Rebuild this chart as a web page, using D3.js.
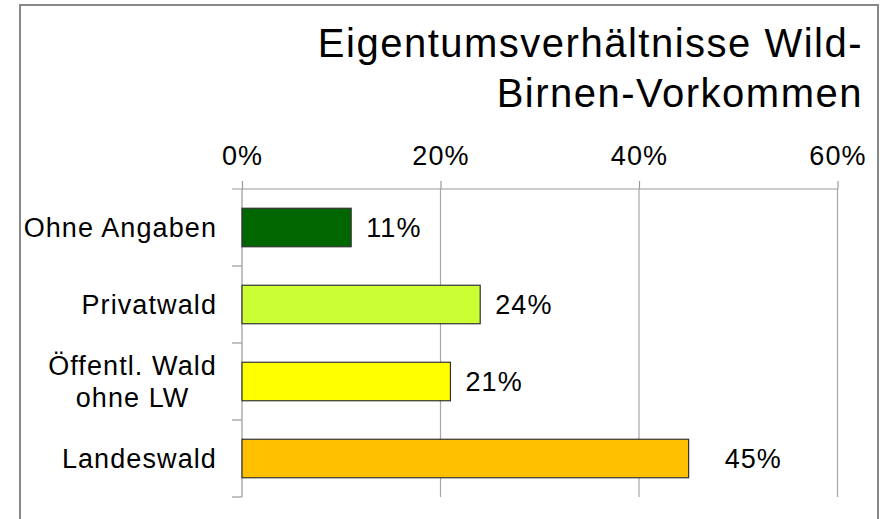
<!DOCTYPE html>
<html>
<head>
<meta charset="utf-8">
<script src="https://cdn.jsdelivr.net/npm/d3@7"></script>
<style>
  html, body { margin: 0; padding: 0; background: #fff; }
  svg { display: block; font-family: "Liberation Sans", Arial, sans-serif; }
</style>
</head>
<body>
<svg id="chart" width="880" height="519"></svg>
<script>
const titleLines = ["Eigentumsverhältnisse Wild-", "Birnen-Vorkommen"];
const categories = ["Ohne Angaben", "Privatwald", "Öffentl. Wald\nohne LW", "Landeswald"];
const values = [11, 24, 21, 45];
const valueLabels = ["11%", "24%", "21%", "45%"];
const colors = ["#006600", "#ccff33", "#ffff00", "#ffc000"];
const tickValues = [0, 20, 40, 60];

const svg = d3.select("#chart");
const W = 880, H = 519;
const m = { left: 242, right: 42.5, top: 189, bottom: 22 };
const FS = 27, LS = 1.1;

// frame
svg.append("rect").attr("x", 20).attr("y", 5).attr("width", 858).attr("height", 530)
  .attr("fill", "#fff").attr("stroke", "#888").attr("stroke-width", 2);

const x = d3.scaleLinear().domain([0, 60]).range([m.left, W - m.right]);
const y = d3.scaleBand().domain(categories).range([m.top, H - m.bottom]).paddingInner(0.5).paddingOuter(0.25);
const yFull = d3.scaleBand().domain(categories).range([m.top, H - m.bottom]);

// title
svg.append("g").selectAll("text").data(titleLines).join("text")
  .attr("x", 863).attr("y", (d, i) => 57 + i * 50)
  .attr("text-anchor", "end").attr("font-size", 40).attr("letter-spacing", 1.5)
  .attr("fill", "#000").text(d => d);

// gridlines
svg.append("g").selectAll("line").data(tickValues.filter(v => v > 0)).join("line")
  .attr("x1", d => x(d)).attr("x2", d => x(d))
  .attr("y1", m.top).attr("y2", H - m.bottom)
  .attr("stroke", "#a6a6a6").attr("stroke-width", 1.2);

// top axis
const xAxis = d3.axisTop(x).tickValues(tickValues).tickFormat(d => d + "%").tickSize(8).tickSizeOuter(0).tickPadding(16);
const gx = svg.append("g").attr("transform", `translate(0,${m.top})`).call(xAxis);
gx.select(".domain").remove();
gx.append("line").attr("x1", m.left - 10).attr("x2", x(60)).attr("y1", 0).attr("y2", 0)
  .attr("stroke", "#999").attr("stroke-width", 1.2);
gx.selectAll(".tick line").attr("stroke", "#999").attr("stroke-width", 1.2);
gx.selectAll(".tick text").attr("font-size", FS).attr("letter-spacing", LS).attr("fill", "#000")
  .attr("font-family", "Liberation Sans, Arial, sans-serif");

// left axis
const boundaries = categories.map(c => yFull(c)).concat([H - m.bottom]);
svg.append("line").attr("x1", m.left).attr("x2", m.left).attr("y1", m.top).attr("y2", H - m.bottom)
  .attr("stroke", "#999").attr("stroke-width", 1.2);
svg.append("g").selectAll("line").data(boundaries.slice(1)).join("line")
  .attr("x1", m.left - 10).attr("x2", m.left).attr("y1", d => d).attr("y2", d => d)
  .attr("stroke", "#999").attr("stroke-width", 1.2);

// category labels
const labG = svg.append("g");
categories.forEach((c, i) => {
  const lines = c.split("\n");
  const cy = yFull(c) + yFull.bandwidth() / 2;
  const lh = 32.7;
  const t = labG.append("g");
  const texts = t.selectAll("text").data(lines).join("text")
    .attr("font-size", FS).attr("letter-spacing", LS).attr("fill", "#000")
    .attr("y", (d, j) => cy + 9.5 + (j - (lines.length - 1) / 2) * lh)
    .text(d => d);
  let maxW = 0;
  texts.each(function () { maxW = Math.max(maxW, this.getComputedTextLength()); });
  texts.attr("text-anchor", "middle").attr("x", 217 - maxW / 2);
});

// bars
svg.append("g").selectAll("rect").data(values).join("rect")
  .attr("x", x(0)).attr("y", (d, i) => y(categories[i]))
  .attr("width", d => x(d) - x(0)).attr("height", y.bandwidth())
  .attr("fill", (d, i) => colors[i]).attr("stroke", "#333").attr("stroke-width", 1.2);

// value labels
const labelGap = [15, 15, 15, 36];
svg.append("g").selectAll("text").data(values).join("text")
  .attr("x", (d, i) => x(d) + labelGap[i])
  .attr("y", (d, i) => yFull(categories[i]) + yFull.bandwidth() / 2 + 9.5)
  .attr("font-size", FS).attr("letter-spacing", LS).attr("fill", "#000")
  .text((d, i) => valueLabels[i]);
</script>
</body>
</html>
